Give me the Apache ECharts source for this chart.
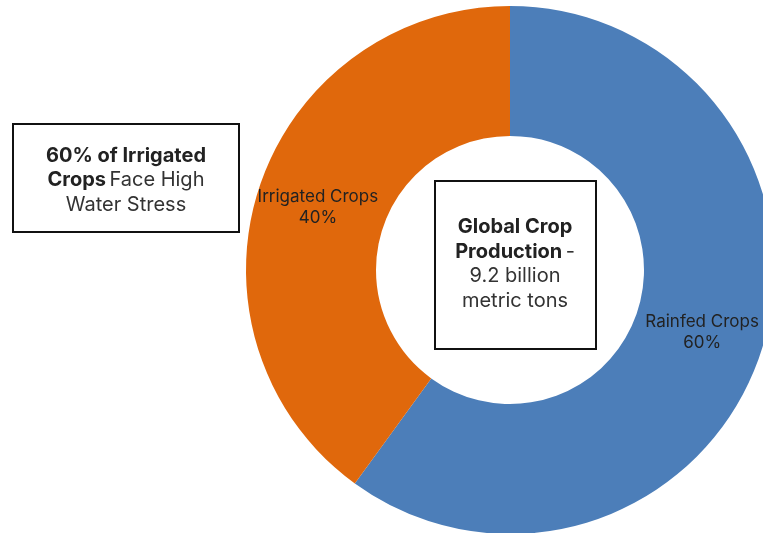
<!DOCTYPE html>
<html><head><meta charset="utf-8">
<script src="https://cdn.jsdelivr.net/npm/echarts@6/dist/echarts.min.js"></script>
<style>html,body{margin:0;padding:0;background:#fff}#c{width:763px;height:533px}</style>
</head><body><div id="c"></div>
<script>
const categories = ['Rainfed Crops', 'Irrigated Crops'];
const values = [60, 40];
const colors = ['#4C7EB9', '#E0680C'];
const FONT = 'Inter, "Noto Sans", sans-serif';

const chart = echarts.init(document.getElementById('c'));
chart.setOption({
  animation: false,
  backgroundColor: '#fff',
  series: [{
    type: 'pie',
    center: [510, 270],
    radius: [134, 264],
    startAngle: 90,
    clockwise: true,
    silent: true,
    itemStyle: { borderColor: '#fff', borderWidth: 0 },
    label: {
      show: true,
      position: 'inside',
      formatter: p => p.name + '\n' + p.value + '%',
      fontFamily: FONT,
      fontSize: 17,
      lineHeight: 21,
      color: '#222'
    },
    labelLine: { show: false },
    data: categories.map((c, i) => ({ name: c, value: values[i], itemStyle: { color: colors[i] } }))
  }],
  graphic: [
    { type: 'rect', shape: { x: 13, y: 124, width: 226, height: 108 },
      style: { fill: '#fff', stroke: '#111', lineWidth: 2 } },
    { type: 'text', x: 126, y: 180,
      style: {
        text: '{b|60% of Irrigated}\n{b|Crops} {n|Face High}\n{n|Water Stress}',
        align: 'center', verticalAlign: 'middle',
        rich: {
          b: { fontFamily: FONT, fontSize: 20, fontWeight: 'bold', fill: '#222', lineHeight: 24.5 },
          n: { fontFamily: FONT, fontSize: 20, fill: '#333', lineHeight: 24.5 }
        }
      } },
    { type: 'rect', shape: { x: 435, y: 181, width: 161, height: 168 },
      style: { fill: '#fff', stroke: '#111', lineWidth: 2 } },
    { type: 'text', x: 515, y: 264,
      style: {
        text: '{b|Global Crop}\n{b|Production} {n|-}\n{n|9.2 billion}\n{n|metric tons}',
        align: 'center', verticalAlign: 'middle',
        rich: {
          b: { fontFamily: FONT, fontSize: 20, fontWeight: 'bold', fill: '#222', lineHeight: 24.5 },
          n: { fontFamily: FONT, fontSize: 20, fill: '#333', lineHeight: 24.5 }
        }
      } }
  ]
});
</script></body></html>
